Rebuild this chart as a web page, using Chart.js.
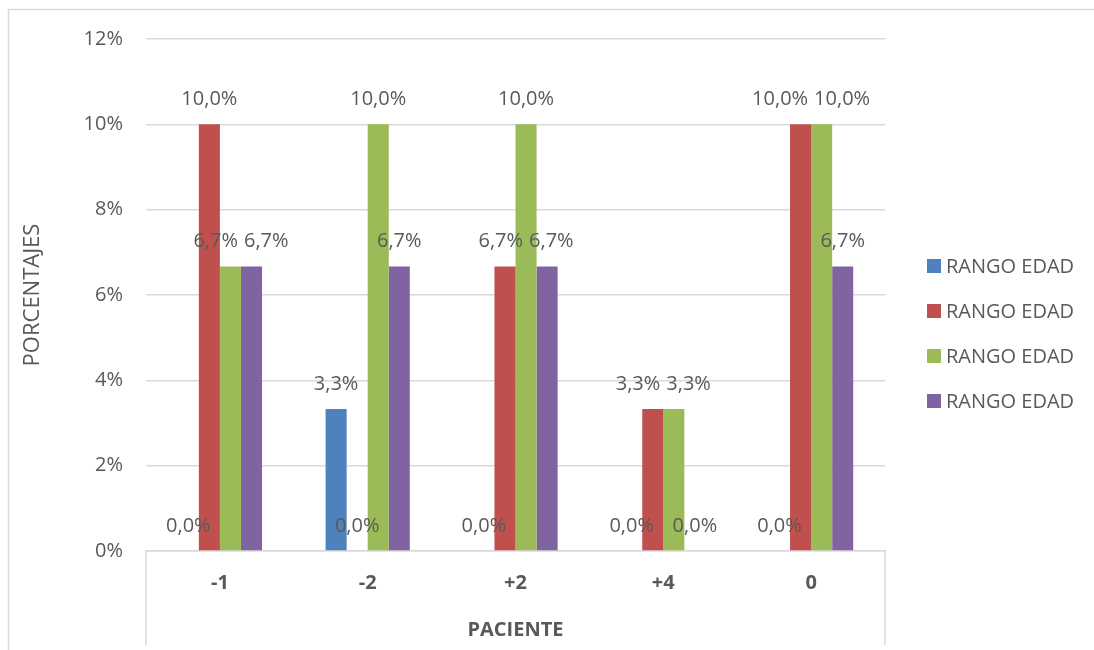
<!DOCTYPE html>
<html lang="es">
<head>
    <meta charset="UTF-8">
    <title>Rango edad por paciente</title>
    <script src="https://cdn.jsdelivr.net/npm/chart.js"></script>
    <style>
        html, body { margin: 0; padding: 0; background: #fff; }
        canvas { display: block; }
    </style>
</head>
<body>
    <canvas id="edadChart" width="1094" height="650"></canvas>
    <script>
        // Datos (porcentajes)
        var categorias = ['-1', '-2', '+2', '+4', '0'];
        var serie1 = [0, 3.33, 0, 0, 0];
        var serie2 = [10, 0, 6.67, 3.33, 10];
        var serie3 = [6.67, 10, 10, 3.33, 10];
        var serie4 = [6.67, 6.67, 6.67, 0, 6.67];
        var nombres = ['RANGO EDAD', 'RANGO EDAD', 'RANGO EDAD', 'RANGO EDAD'];
        var ticksY = [0, 2, 4, 6, 8, 10, 12];

        var colores = ['#4F81BD', '#C0504D', '#9BBB59', '#8064A2'];
        var gris = '#595959';
        var fuente = '"Open Sans", "Noto Sans", sans-serif';

        function etiqueta(v) {
            return v.toFixed(1).replace('.', ',') + '%';
        }

        // Marco, titulos de ejes, leyenda y etiquetas de datos
        var extras = {
            id: 'extras',
            beforeDraw: function (chart) {
                var ctx = chart.ctx;
                ctx.save();
                ctx.fillStyle = '#fff';
                ctx.fillRect(0, 0, chart.width, chart.height);
                ctx.strokeStyle = '#D9D9D9';
                ctx.lineWidth = 1.5;
                ctx.beginPath();
                ctx.moveTo(8.5, chart.height);
                ctx.lineTo(8.5, 9.5);
                ctx.lineTo(chart.width, 9.5);
                ctx.stroke();
                ctx.restore();
            },
            afterDraw: function (chart) {
                var ctx = chart.ctx;
                var a = chart.chartArea;
                ctx.save();

                // lineas verticales bajo el eje X
                ctx.strokeStyle = '#D9D9D9';
                ctx.lineWidth = 1.5;
                ctx.beginPath();
                ctx.moveTo(a.left, a.bottom);
                ctx.lineTo(a.left, chart.height - 5);
                ctx.moveTo(a.right, a.bottom);
                ctx.lineTo(a.right, chart.height - 5);
                ctx.stroke();

                // titulo eje Y
                ctx.fillStyle = gris;
                ctx.font = '22px ' + fuente;
                ctx.textAlign = 'center';
                ctx.textBaseline = 'middle';
                ctx.save();
                ctx.translate(33, (a.top + a.bottom) / 2);
                ctx.rotate(-Math.PI / 2);
                ctx.fillText('PORCENTAJES', 0, 0);
                ctx.restore();

                // titulo eje X
                ctx.font = 'bold 20px ' + fuente;
                ctx.fillText('PACIENTE', (a.left + a.right) / 2, 630);

                // leyenda
                ctx.font = '20px ' + fuente;
                ctx.textAlign = 'left';
                chart.data.datasets.forEach(function (ds, i) {
                    var y = 266 + i * 45;
                    ctx.fillStyle = ds.backgroundColor;
                    ctx.fillRect(927, y - 7, 14, 14);
                    ctx.fillStyle = gris;
                    ctx.fillText(ds.label, 946, y + 1);
                });

                // etiquetas de datos, separadas si se pisan
                ctx.font = '20px ' + fuente;
                ctx.textAlign = 'center';
                ctx.fillStyle = gris;
                var n = chart.data.labels.length;
                for (var c = 0; c < n; c++) {
                    var lista = [];
                    chart.data.datasets.forEach(function (ds, i) {
                        var bar = chart.getDatasetMeta(i).data[c];
                        var txt = etiqueta(ds.data[c]);
                        lista.push({ x: bar.x, y: bar.y - 25, w: ctx.measureText(txt).width, t: txt });
                    });
                    for (var pasada = 0; pasada < 4; pasada++) {
                        for (var p = 0; p < lista.length; p++) {
                            for (var q = p + 1; q < lista.length; q++) {
                                var l1 = lista[p], l2 = lista[q];
                                if (Math.abs(l1.y - l2.y) > 20) continue;
                                var sep = (l1.w + l2.w) / 2 + 6 - (l2.x - l1.x);
                                if (sep > 0) {
                                    l1.x -= sep / 2;
                                    l2.x += sep / 2;
                                }
                            }
                        }
                    }
                    lista.forEach(function (l) {
                        ctx.fillText(l.t, l.x, l.y);
                    });
                }
                ctx.restore();
            }
        };

        var series = [serie1, serie2, serie3, serie4];
        var datasets = series.map(function (s, i) {
            return {
                label: nombres[i],
                data: s,
                backgroundColor: colores[i],
                borderWidth: 0,
                barPercentage: 1,
                categoryPercentage: 0.57
            };
        });

        new Chart(document.getElementById('edadChart').getContext('2d'), {
            type: 'bar',
            data: { labels: categorias, datasets: datasets },
            options: {
                responsive: false,
                animation: false,
                layout: { padding: { top: 39, right: 209, left: 0, bottom: 0 } },
                plugins: {
                    legend: { display: false },
                    tooltip: { enabled: false }
                },
                scales: {
                    x: {
                        grid: { display: false, drawTicks: false },
                        border: { display: true, color: '#D9D9D9', width: 1.5 },
                        ticks: {
                            color: gris,
                            padding: 20,
                            font: { family: fuente, size: 20, weight: 'bold' }
                        },
                        afterFit: function (s) { s.height = 99; }
                    },
                    y: {
                        min: 0,
                        max: 12,
                        afterBuildTicks: function (s) {
                            s.ticks = ticksY.map(function (v) { return { value: v }; });
                        },
                        grid: { color: '#D9D9D9', lineWidth: 1.5, drawTicks: false },
                        border: { display: false },
                        ticks: {
                            color: gris,
                            padding: 23,
                            font: { family: fuente, size: 20 },
                            callback: function (v) { return v + '%'; }
                        },
                        afterFit: function (s) { s.width = 146; }
                    }
                }
            },
            plugins: [extras]
        });
    </script>
</body>
</html>
